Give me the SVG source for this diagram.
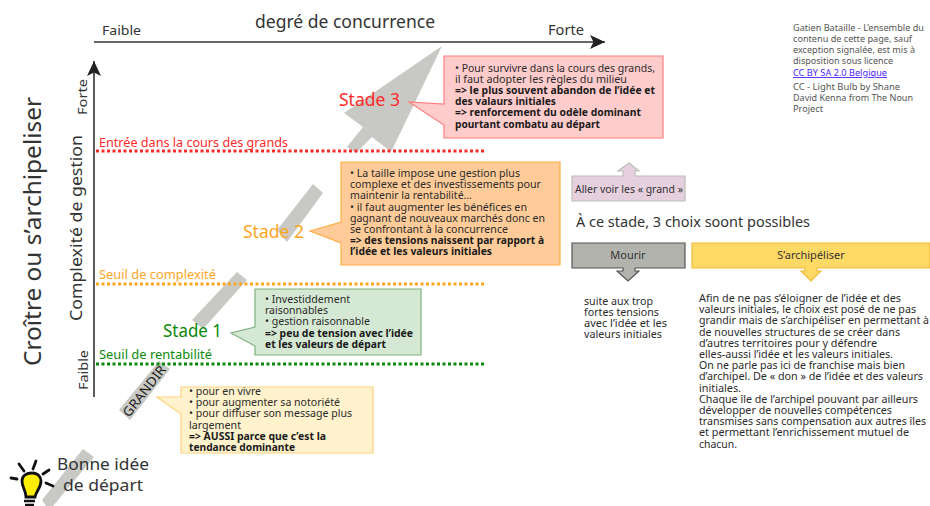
<svg xmlns="http://www.w3.org/2000/svg" width="930" height="506" viewBox="0 0 930 506">
<style>
text{font-family:"Noto Sans","Open Sans","Liberation Sans",sans-serif;fill:#333}
.s{font-size:10.5px;fill:#2b2b2b}
.b{font-size:10.5px;font-weight:bold;fill:#1a1a1a}
.c{font-size:9px;fill:#555}
.l{font-size:13px}
.st{font-size:18px}
.arrow{fill:#c8c8c4}
.axis{fill:none;stroke:#333;stroke-width:1.6}
.thr{fill:none;stroke-width:3;stroke-dasharray:3 2.5}
</style>
<defs>
<marker id="ah" markerUnits="userSpaceOnUse" markerWidth="16" markerHeight="14" refX="15" refY="7" orient="auto"><path d="M0 0L15 7L0 14L3.500 7Z" fill="#222"/></marker>
</defs>
<rect width="930" height="506" fill="#fff"/>
<g id="grow-arrow">
<path class="arrow" d="M83 449L94 457L53 506H46L42 500Z"/>
<path class="arrow" d="M159 361L170 369L130 420L119 410Z"/>
<path class="arrow" d="M237 272L247 280L203 329L192 320Z"/>
<path class="arrow" d="M313 184L323 193L287 242L277 230Z"/>
<path class="arrow" d="M442 46L344 113L363 127L347 147L356 153L372 137L390 151L392 150Z"/>
<text transform="translate(129 418) rotate(-52)" font-size="13" textLength="61" lengthAdjust="spacingAndGlyphs" style="fill:#222">GRANDIR</text>
</g>
<g id="connectors">
<path class="axis" d="M94 42H605" marker-end="url(#ah)"/>
<path class="axis" d="M94 397V61" marker-end="url(#ah)"/>
<path class="thr" stroke="#ff2a2a" d="M96 151H484"/>
<path class="thr" stroke="#ffa51f" d="M96 284H484"/>
<path class="thr" stroke="#0a8a0a" d="M96 364H484"/>
</g>
<g id="title">
<text transform="translate(41 366) rotate(-90)" font-size="24" textLength="269" lengthAdjust="spacingAndGlyphs">Croître ou s’archipeliser</text>
</g>
<g id="axis-x">
<text x="102" y="35" font-size="13" textLength="39" lengthAdjust="spacingAndGlyphs">Faible</text>
<text x="255" y="28" font-size="18" textLength="180" lengthAdjust="spacingAndGlyphs">degré de concurrence</text>
<text x="548" y="35" font-size="14" textLength="36" lengthAdjust="spacingAndGlyphs">Forte</text>
</g>
<g id="axis-y">
<text transform="translate(82 321) rotate(-90)" font-size="16" textLength="186" lengthAdjust="spacingAndGlyphs">Complexité de gestion</text>
<text transform="translate(87 115) rotate(-90)" font-size="13" textLength="36" lengthAdjust="spacingAndGlyphs">Forte</text>
<text transform="translate(88 390) rotate(-90)" font-size="13" textLength="40" lengthAdjust="spacingAndGlyphs">Faible</text>
</g>
<g id="threshold-labels">
<text class="l" x="99" y="147" textLength="189" lengthAdjust="spacingAndGlyphs" style="fill:#ff2a2a">Entrée dans la cours des grands</text>
<text class="l" x="99" y="279" textLength="117" lengthAdjust="spacingAndGlyphs" style="fill:#ffa51f">Seuil de complexité</text>
<text class="l" x="99" y="359" textLength="113" lengthAdjust="spacingAndGlyphs" style="fill:#0a8a0a">Seuil de rentabilité</text>
</g>
<g id="stade3">
<text class="st" x="339" y="106" textLength="61" lengthAdjust="spacingAndGlyphs" style="fill:#ff2a2a">Stade 3</text>
<path d="M444 56H663V138H444V125L409 102L444 104Z" fill="#ffcccc" stroke="#ff7f7f" stroke-width="1.200"/>
<text class="s" x="455" y="71.500" textLength="200" lengthAdjust="spacingAndGlyphs">• Pour survivre dans la cours des grands,</text>
<text class="s" x="455" y="82.700" textLength="172" lengthAdjust="spacingAndGlyphs">il faut adopter les règles du milieu</text>
<text class="b" x="455" y="94" textLength="200" lengthAdjust="spacingAndGlyphs">=> le plus souvent abandon de l’idée et</text>
<text class="b" x="455" y="105" textLength="101" lengthAdjust="spacingAndGlyphs">des valaurs initiales</text>
<text class="b" x="455" y="116.300" textLength="186" lengthAdjust="spacingAndGlyphs">=> renforcement du odèle dominant</text>
<text class="b" x="455" y="127.500" textLength="145" lengthAdjust="spacingAndGlyphs">pourtant combatu au départ</text>
</g>
<g id="stade2">
<text class="st" x="243" y="238" textLength="61" lengthAdjust="spacingAndGlyphs" style="fill:#ffa51f">Stade 2</text>
<path d="M341 162H560V265H341V243L310 231L341 222Z" fill="#ffcc99" stroke="#ffad42" stroke-width="1.200"/>
<text class="s" x="350" y="177" textLength="170" lengthAdjust="spacingAndGlyphs">• La taille impose une gestion plus</text>
<text class="s" x="350" y="188.200" textLength="191" lengthAdjust="spacingAndGlyphs">complexe et des investissements pour</text>
<text class="s" x="350" y="199.400" textLength="122" lengthAdjust="spacingAndGlyphs">maintenir la rentabilité…</text>
<text class="s" x="350" y="210.600" textLength="177" lengthAdjust="spacingAndGlyphs">• il faut augmenter les bénéfices en</text>
<text class="s" x="350" y="221.800" textLength="195" lengthAdjust="spacingAndGlyphs">gagnant de nouveaux marchés donc en</text>
<text class="s" x="350" y="233" textLength="158" lengthAdjust="spacingAndGlyphs">se confrontant à la concurrence</text>
<text class="b" x="350" y="244.200" textLength="194" lengthAdjust="spacingAndGlyphs">=> des tensions naissent par rapport à</text>
<text class="b" x="350" y="255.400" textLength="142" lengthAdjust="spacingAndGlyphs">l’idée et les valeurs initiales</text>
</g>
<g id="stade1">
<text class="st" x="163" y="337" textLength="59" lengthAdjust="spacingAndGlyphs" style="fill:#0a8a0a">Stade 1</text>
<path d="M255 289H421V355H255V346L231 333L255 327Z" fill="#d5e8d4" stroke="#7fb27f" stroke-width="1.200"/>
<text class="s" x="265" y="303" textLength="85" lengthAdjust="spacingAndGlyphs">• Investiddement</text>
<text class="s" x="265" y="314.200" textLength="63" lengthAdjust="spacingAndGlyphs">raisonnables</text>
<text class="s" x="265" y="325.400" textLength="105" lengthAdjust="spacingAndGlyphs">• gestion raisonnable</text>
<text class="b" x="265" y="336.600" textLength="148" lengthAdjust="spacingAndGlyphs">=> peu de tension avec l’idée</text>
<text class="b" x="265" y="347.800" textLength="121" lengthAdjust="spacingAndGlyphs">et les valeurs de départ</text>
</g>
<g id="grandir-note">
<path d="M181 387H373V453H181V414L157 397L181 397Z" fill="#fff2cc" stroke="#ffd27f" stroke-width="1.200"/>
<text class="s" x="189" y="395" textLength="72" lengthAdjust="spacingAndGlyphs">• pour en vivre</text>
<text class="s" x="189" y="406.200" textLength="151" lengthAdjust="spacingAndGlyphs">• pour augmenter sa notoriété</text>
<text class="s" x="189" y="417.400" textLength="163" lengthAdjust="spacingAndGlyphs">• pour diffuser son message plus</text>
<text class="s" x="189" y="428.600" textLength="52" lengthAdjust="spacingAndGlyphs">largement</text>
<text class="b" x="189" y="439.800" textLength="137" lengthAdjust="spacingAndGlyphs">=> AUSSI parce que c’est la</text>
<text class="b" x="189" y="451" textLength="106" lengthAdjust="spacingAndGlyphs">tendance dominante</text>
</g>
<g id="idee">
<path d="M11 478L17 479M19 464L24 471M36 461L33 469M49 470L43 474M46 483L53 486" stroke="#111" stroke-width="2.800" stroke-linecap="round" fill="none"/>
<path d="M26 497C26 490 22 488 22 481C22 476 26 473 32 473C38 473 41 477 41 481C41 488 36 491 35 497Z" fill="#ffee00" stroke="#111" stroke-width="2.800"/>
<path d="M24 501H35M25 505H34" stroke="#111" stroke-width="2.500"/>
<text x="57" y="470" font-size="17" textLength="92" lengthAdjust="spacingAndGlyphs">Bonne idée</text>
<text x="63" y="491" font-size="17" textLength="80" lengthAdjust="spacingAndGlyphs">de départ</text>
</g>
<g id="aller-voir">
<path d="M572 176H623V171H618L629 163L639 171H635V176H685V201H572Z" fill="#e6d0de" stroke="#bdbdb8" stroke-width="1.200"/>
<text x="575" y="193" font-size="11" textLength="108" lengthAdjust="spacingAndGlyphs">Aller voir les « grand »</text>
</g>
<text id="choix" x="576" y="227" font-size="14" textLength="234" lengthAdjust="spacingAndGlyphs">À ce stade, 3 choix soont possibles</text>
<g id="mourir">
<path d="M572 243H685V268H635V271H639L628 281L617 271H623V268H572Z" fill="#b3b3ae" stroke="#555" stroke-width="1.200"/>
<text x="628" y="259" font-size="11" text-anchor="middle">Mourir</text>
<text class="s" x="584" y="305" textLength="69" lengthAdjust="spacingAndGlyphs">suite aux trop</text>
<text class="s" x="584" y="316" textLength="75" lengthAdjust="spacingAndGlyphs">fortes tensions</text>
<text class="s" x="584" y="327" textLength="83" lengthAdjust="spacingAndGlyphs">avec l’idée et les</text>
<text class="s" x="584" y="338" textLength="78" lengthAdjust="spacingAndGlyphs">valeurs initiales</text>
</g>
<g id="archipeliser">
<path d="M692 243H930V268H817V271H821L811 281L801 271H805V268H692Z" fill="#ffd966" stroke="#f5b93a" stroke-width="1.200"/>
<text x="811" y="259" font-size="11" text-anchor="middle">S’archipéliser</text>
<text class="s" x="699" y="302" textLength="202" lengthAdjust="spacingAndGlyphs">Afin de ne pas s’éloigner de l’idée et des</text>
<text class="s" x="699" y="313.200" textLength="217" lengthAdjust="spacingAndGlyphs">valeurs initiales, le choix est posé de ne pas</text>
<text class="s" x="699" y="324.400" textLength="230" lengthAdjust="spacingAndGlyphs">grandir mais de s’archipéliser en permettant à</text>
<text class="s" x="699" y="335.600" textLength="201" lengthAdjust="spacingAndGlyphs">de nouvelles structures de se créer dans</text>
<text class="s" x="699" y="346.800" textLength="178" lengthAdjust="spacingAndGlyphs">d’autres territoires pour y défendre</text>
<text class="s" x="699" y="358" textLength="194" lengthAdjust="spacingAndGlyphs">elles-aussi l’idée et les valeurs initiales.</text>
<text class="s" x="699" y="369.200" textLength="206" lengthAdjust="spacingAndGlyphs">On ne parle pas ici de franchise mais bien</text>
<text class="s" x="699" y="380.400" textLength="224" lengthAdjust="spacingAndGlyphs">d’archipel. De « don » de l’idée et des valeurs</text>
<text class="s" x="699" y="391.600" textLength="42" lengthAdjust="spacingAndGlyphs">initiales.</text>
<text class="s" x="699" y="402.800" textLength="219" lengthAdjust="spacingAndGlyphs">Chaque île de l’archipel pouvant par ailleurs</text>
<text class="s" x="699" y="414" textLength="193" lengthAdjust="spacingAndGlyphs">développer de nouvelles compétences</text>
<text class="s" x="699" y="425.200" textLength="227" lengthAdjust="spacingAndGlyphs">transmises sans compensation aux autres îles</text>
<text class="s" x="699" y="436.400" textLength="210" lengthAdjust="spacingAndGlyphs">et permettant l’enrichissement mutuel de</text>
<text class="s" x="699" y="447.600" textLength="38" lengthAdjust="spacingAndGlyphs">chacun.</text>
</g>
<g id="credits">
<text class="c" x="793" y="31" textLength="131" lengthAdjust="spacingAndGlyphs">Gatien Bataille - L’ensemble du</text>
<text class="c" x="793" y="42" textLength="119" lengthAdjust="spacingAndGlyphs">contenu de cette page, sauf</text>
<text class="c" x="793" y="53" textLength="122" lengthAdjust="spacingAndGlyphs">exception signalée, est mis à</text>
<text class="c" x="793" y="64" textLength="100" lengthAdjust="spacingAndGlyphs">disposition sous licence</text>
<text class="c" x="793" y="76" textLength="94" lengthAdjust="spacingAndGlyphs" text-decoration="underline" style="fill:#4a1fff">CC BY SA 2.0 Belgique</text>
<text class="c" x="793" y="90" textLength="107" lengthAdjust="spacingAndGlyphs">CC - Light Bulb by Shane</text>
<text class="c" x="793" y="101" textLength="120" lengthAdjust="spacingAndGlyphs">David Kenna from The Noun</text>
<text class="c" x="793" y="112" textLength="30" lengthAdjust="spacingAndGlyphs">Project</text>
</g>
</svg>
